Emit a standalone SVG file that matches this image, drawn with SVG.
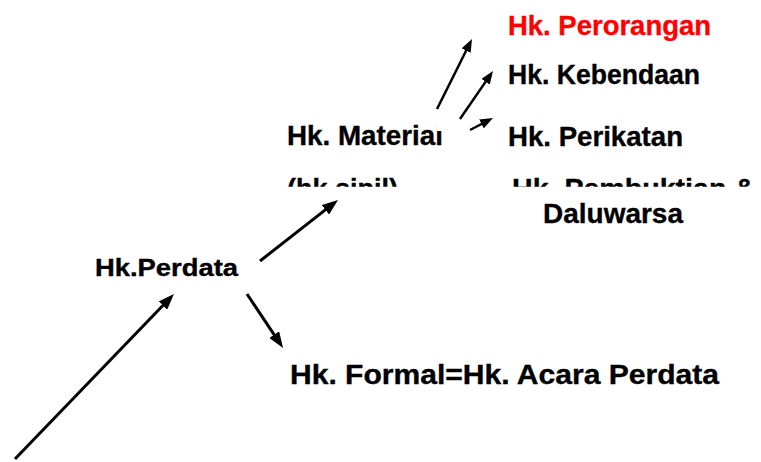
<svg xmlns="http://www.w3.org/2000/svg" width="761" height="462" viewBox="0 0 761 462">
  <style>
    text { font-family: "Liberation Sans", Arial, sans-serif; font-weight: bold; font-size: 28px; fill: #000; stroke: #000; stroke-width: 0.35; }
    .red { fill: #ff0000; stroke: #ff0000; }
    .conn { stroke: #000; fill: none; stroke-linecap: butt; }
    .big { stroke-width: 3; marker-end: url(#ah); }
    .small { stroke-width: 2.5; marker-end: url(#ahs); }
  </style>
  <defs>
    <marker id="ah" markerUnits="userSpaceOnUse" markerWidth="16" markerHeight="12" refX="8" refY="6" orient="auto">
      <path d="M0,0 L16,6 L0,12 z" fill="#000"/>
    </marker>
    <marker id="ahs" markerUnits="userSpaceOnUse" markerWidth="13" markerHeight="10" refX="6.5" refY="5" orient="auto">
      <path d="M0,0 L13,5 L0,10 z" fill="#000"/>
    </marker>
    <clipPath id="cut">
      <rect x="0" y="0" width="761" height="186.8"/>
    </clipPath>
  </defs>
  <rect x="0" y="0" width="761" height="462" fill="#fff"/>

  <g id="perorangan"><text class="red" x="508" y="35" textLength="203" lengthAdjust="spacingAndGlyphs">Hk. Perorangan</text></g>
  <g id="kebendaan"><text x="508" y="84" textLength="192" lengthAdjust="spacingAndGlyphs">Hk. Kebendaan</text></g>
  <g id="perikatan"><text x="508" y="146" textLength="175" lengthAdjust="spacingAndGlyphs">Hk. Perikatan</text></g>
  <g id="material">
    <text x="287" y="145" textLength="156" lengthAdjust="spacingAndGlyphs">Hk. Material</text>
    <text x="287" y="198" textLength="111" lengthAdjust="spacingAndGlyphs" clip-path="url(#cut)">(hk sipil)</text>
  </g>
  <g id="pembuktian">
    <text x="512" y="198" textLength="243" lengthAdjust="spacingAndGlyphs" clip-path="url(#cut)">Hk. Pembuktian &amp;</text>
    <text x="543" y="223" textLength="140" lengthAdjust="spacingAndGlyphs">Daluwarsa</text>
  </g>
  <g id="perdata"><text x="95" y="276" style="font-size:23px" textLength="143" lengthAdjust="spacingAndGlyphs">Hk.Perdata</text></g>
  <g id="formal"><text x="290" y="384" style="font-size:27px" textLength="429" lengthAdjust="spacingAndGlyphs">Hk. Formal=Hk. Acara Perdata</text></g>

  <g id="connectors">
    <rect x="436.5" y="122" width="9" height="9" fill="#fff"/>
    <line class="conn big" x1="15" y1="459" x2="168.4" y2="299.8"/>
    <line class="conn big" x1="260" y1="261" x2="331.7" y2="204.9"/>
    <line class="conn big" x1="247" y1="294" x2="278.6" y2="341.3"/>
    <line class="conn small" x1="437" y1="109" x2="469.1" y2="44.8"/>
    <line class="conn small" x1="460" y1="119" x2="489.3" y2="76.4"/>
    <line class="conn small" x1="470" y1="130" x2="487.2" y2="121"/>
  </g>
</svg>
